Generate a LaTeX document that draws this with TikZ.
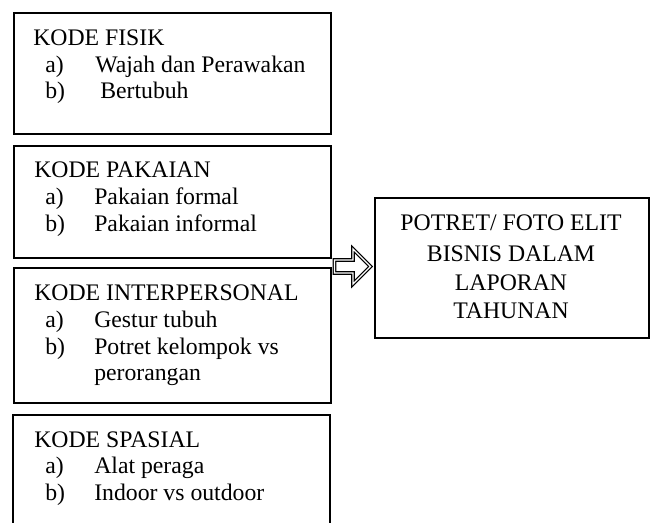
\documentclass[tikz,border=0pt]{standalone}
\usepackage{fontspec}
\setmainfont{Liberation Serif}
\begin{document}
\begin{tikzpicture}[x=0.75pt,y=-0.75pt,
  box/.style={draw=black,line width=1.3pt,anchor=north west,inner sep=0pt},
  txt/.style={anchor=base west,inner sep=0pt,font=\fontsize{17.8pt}{20pt}\selectfont},
  ctxt/.style={anchor=base,inner sep=0pt,font=\fontsize{17.8pt}{20pt}\selectfont}]
\useasboundingbox (0,0) rectangle (654,522);
% left boxes
\node[box,minimum width=237.75pt,minimum height=90.75pt] (b1) at (13,12) {};
\node[box,minimum width=237.75pt,minimum height=84pt] (b2) at (13,145) {};
\node[box,minimum width=237.75pt,minimum height=101.25pt] (b3) at (13,267) {};
\coordinate (b4nw) at (13,415);
\coordinate (b4ne) at (330,415);
\draw[line width=1.3pt] (b4nw |- 0,523) -- (b4nw) -- (b4ne) -- (b4ne |- 0,523);
% right box
\node[box,minimum width=205.5pt,minimum height=105pt] (r) at (374,197) {};
% box 1
\node[txt] (t1) at (33,45) {KODE FISIK};
\node[txt] (t1a) at (45,72) {a)};
\node[txt] (t1at) at (95,72) {Wajah dan Perawakan};
\node[txt] (t1b) at (45,98) {b)};
\node[txt] (t1bt) at (100,98) {Bertubuh};
% box 2
\node[txt] (t2) at (34,177) {KODE PAKAIAN};
\node[txt] (t2a) at (45,204) {a)};
\node[txt] (t2at) at (94,204) {Pakaian formal};
\node[txt] (t2b) at (45,231) {b)};
\node[txt] (t2bt) at (94,231) {Pakaian informal};
% box 3
\node[txt] (t3) at (34,300) {KODE INTERPERSONAL};
\node[txt] (t3a) at (45,327) {a)};
\node[txt] (t3at) at (94,327) {Gestur tubuh};
\node[txt] (t3b) at (45,354) {b)};
\node[txt] (t3bt) at (94,354) {Potret kelompok vs};
\node[txt] (t3bt2) at (94,380) {perorangan};
% box 4
\node[txt] (t4) at (34,447) {KODE SPASIAL};
\node[txt] (t4a) at (45,473) {a)};
\node[txt] (t4at) at (94,473) {Alat peraga};
\node[txt] (t4b) at (45,500) {b)};
\node[txt] (t4bt) at (94,500) {Indoor vs outdoor};
% right text
\node[ctxt] (r1) at (511,230) {POTRET/ FOTO ELIT};
\node[ctxt] (r2) at (511,261) {BISNIS DALAM};
\node[ctxt] (r3) at (511,290) {LAPORAN};
\node[ctxt] (r4) at (511,318) {TAHUNAN};
% block arrow
\draw[line width=0.85pt,double=white,double distance=1pt,line join=miter]
  (334.5,260) -- (353,260) -- (353,249) -- (370.5,266.5) -- (353,284) -- (353,273) -- (334.5,273) -- cycle;
\end{tikzpicture}
\end{document}
